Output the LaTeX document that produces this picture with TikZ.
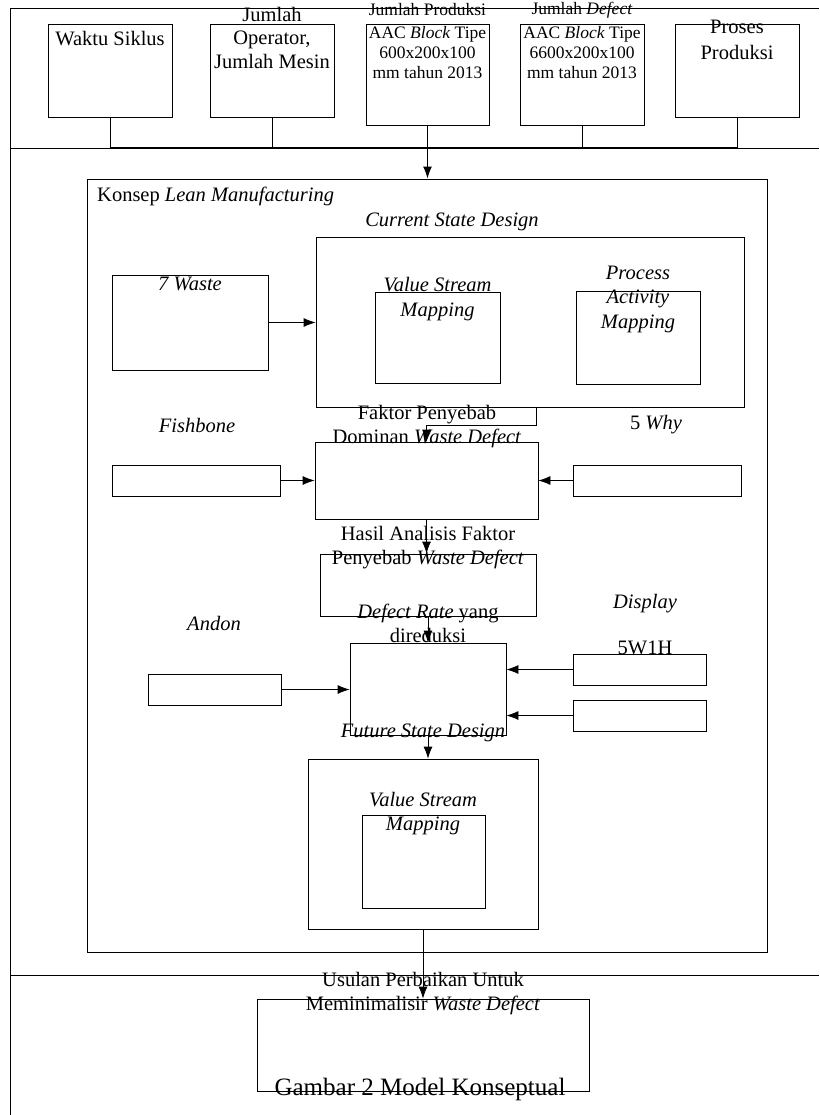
\documentclass[tikz,border=0pt]{standalone}
\usepackage{fontspec}
\setmainfont{Liberation Serif}
\usetikzlibrary{positioning,arrows.meta}

\tikzset{
  box/.style={draw, line width=0.8pt, inner sep=0pt},
  txt/.style={align=center, inner sep=0pt, font=\fontsize{20.5}{24}\selectfont},
  small/.style={align=center, inner sep=0pt, font=\fontsize{17.5}{20}\selectfont},
  link/.style={->, line width=0.8pt},
}

\begin{document}
\begin{tikzpicture}[x=1pt,y=-1pt,>={Latex[length=12pt,width=9pt]}]
    \useasboundingbox (0,0) rectangle (819,1115);
    % Frame
    \draw[line width=0.8pt] (10,1115) -- (10,8) -- (819,8);
    \draw[line width=0.8pt] (10,148) -- (819,148);
    \draw[line width=0.8pt] (10,975) -- (819,975);
    % Input boxes
    \node[box, minimum width=124, minimum height=93] (waktu) at (110,70.5) {};
    \node[box, minimum width=124, minimum height=93] (operator) at (272,70.5) {};
    \node[box, minimum width=123, minimum height=101] (produksi) at (427.5,74.5) {};
    \node[box, minimum width=124, minimum height=101] (defect) at (582,74.5) {};
    \node[box, minimum width=124, minimum height=93] (proses) at (737,70.5) {};
    \node[txt] (waktutxt) at (110,39) {Waktu Siklus};
    \node[txt] (jumlahtxt) at (272,14) {Jumlah};
    \node[txt] (operatortxt) at (272,50) {Operator,\\Jumlah Mesin};
    \node[small] (produksihead) at (427.5,10) {Jumlah Produksi};
    \node[small] (produksitxt) at (427.5,53) {AAC \textit{Block} Tipe\\600x200x100\\mm tahun 2013};
    \node[small] (defecthead) at (582,10) {Jumlah \textit{Defect}};
    \node[small] (defecttxt) at (582,53) {AAC \textit{Block} Tipe\\6600x200x100\\mm tahun 2013};
    \node[txt, font=\fontsize{20.5}{26}\selectfont] (prosestxt) at (737,40) {Proses\\Produksi};
    % Bus
    \coordinate (bus) at (427.5,148);
    \foreach \n in {waktu,operator,produksi,defect,proses}
      \draw[line width=0.8pt] (\n.south) -- (\n.south |- bus);
    \draw[line width=1.4pt] (waktu.south |- bus) -- (proses.south |- bus);
    % Lean manufacturing
    \node[box, minimum width=680, minimum height=773] (lean) at (427,565.5) {};
    \draw[->, line width=1.4pt] (bus) -- (lean.north -| bus);
    \node[txt, anchor=west] (leantxt) at (97,196) {Konsep \textit{Lean Manufacturing}};
    % Current state
    \node[txt] (csdtxt) at (452,222) {\textit{Current State Design}};
    \node[box, minimum width=428, minimum height=170] (csd) at (530,322) {};
    \node[box, minimum width=156, minimum height=95] (waste) at (190,322.5) {};
    \node[txt] (wastetxt) at (190,284) {\textit{7 Waste}};
    \node[box, minimum width=125, minimum height=91] (vsm) at (437.5,337.5) {};
    \node[txt, font=\fontsize{20.5}{25}\selectfont] (vsmtxt) at (437.5,299.5) {\textit{Value Stream}\\\textit{Mapping}};
    \node[box, minimum width=124, minimum height=93] (pam) at (638,337.5) {};
    \node[txt, font=\fontsize{20.5}{24.5}\selectfont] (pamtxt) at (638,299) {\textit{Process}\\\textit{Activity}\\\textit{Mapping}};
    \draw[link] (waste.east) -- (waste.east -| csd.west);
    % Dominant cause
    \node[box, minimum width=223, minimum height=77] (faktor) at (426.5,480.5) {};
    \node[txt] (faktortxt) at (427,427) {Faktor Penyebab\\Dominan \textit{Waste Defect}};
    \coordinate (bend) at (536,425);
    \draw[link] (csd.south -| bend) -- (bend) -| (faktor.north);
    \node[txt] (fishtxt) at (197,425) {\textit{Fishbone}};
    \node[box, minimum width=168, minimum height=31] (fish) at (196,480.5) {};
    \node[txt] (whytxt) at (656,425) {5 \textit{Why}};
    \node[box, minimum width=168, minimum height=31] (why) at (657,480.5) {};
    \draw[link] (fish.east) -- (faktor.west);
    \draw[link] (why.west) -- (faktor.east);
    % Analysis result
    \node[box, minimum width=216, minimum height=62] (hasil) at (428,585) {};
    \node[txt] (hasiltxt) at (428,548) {Hasil Analisis Faktor\\Penyebab \textit{Waste Defect}};
    \draw[link] (faktor.south) -- (hasil.north -| faktor.south);
    % Defect rate
    \node[box, minimum width=156, minimum height=92] (rate) at (428,689) {};
    \node[txt] (ratetxt) at (428,623.5) {\textit{Defect Rate} yang\\direduksi};
    \draw[link] (hasil.south) -- (rate.north);
    \node[txt] (andontxt) at (214,623) {\textit{Andon}};
    \node[box, minimum width=133, minimum height=31] (andon) at (214.5,689.5) {};
    \node[txt] (displaytxt) at (645,604) {\textit{Display}};
    \node[txt] (whtxt) at (645,648) {5W1H};
    \node[box, minimum width=133, minimum height=31] (wh) at (639.5,669.5) {};
    \node[box, minimum width=133, minimum height=31] (display) at (639.5,715.5) {};
    \draw[link] (andon.east) -- (andon.east -| rate.west);
    \draw[link] (wh.west) -- (wh.west -| rate.east);
    \draw[link] (display.west) -- (display.west -| rate.east);
    % Future state
    \node[txt] (fsdtxt) at (423,733) {\textit{Future State Design}};
    \node[box, minimum width=230, minimum height=170] (fsd) at (423,844) {};
    \node[box, minimum width=123, minimum height=93] (vsmf) at (423.5,861.5) {};
    \node[txt, font=\fontsize{20.5}{24}\selectfont] (vsmftxt) at (423,814) {\textit{Value Stream}\\\textit{Mapping}};
    \draw[link] (rate.south) -- (fsd.north -| rate.south);
    % Proposal
    \node[box, minimum width=332, minimum height=92] (usulan) at (423,1045) {};
    \node[txt] (usulantxt) at (423,994) {Usulan Perbaikan Untuk\\Meminimalisir \textit{Waste Defect}};
    \draw[link] (fsd.south) -- (usulan.north);
    \node[txt, font=\fontsize{25}{30}\selectfont] (caption) at (420,1089) {Gambar 2 Model Konseptual};
\end{tikzpicture}
\end{document}
